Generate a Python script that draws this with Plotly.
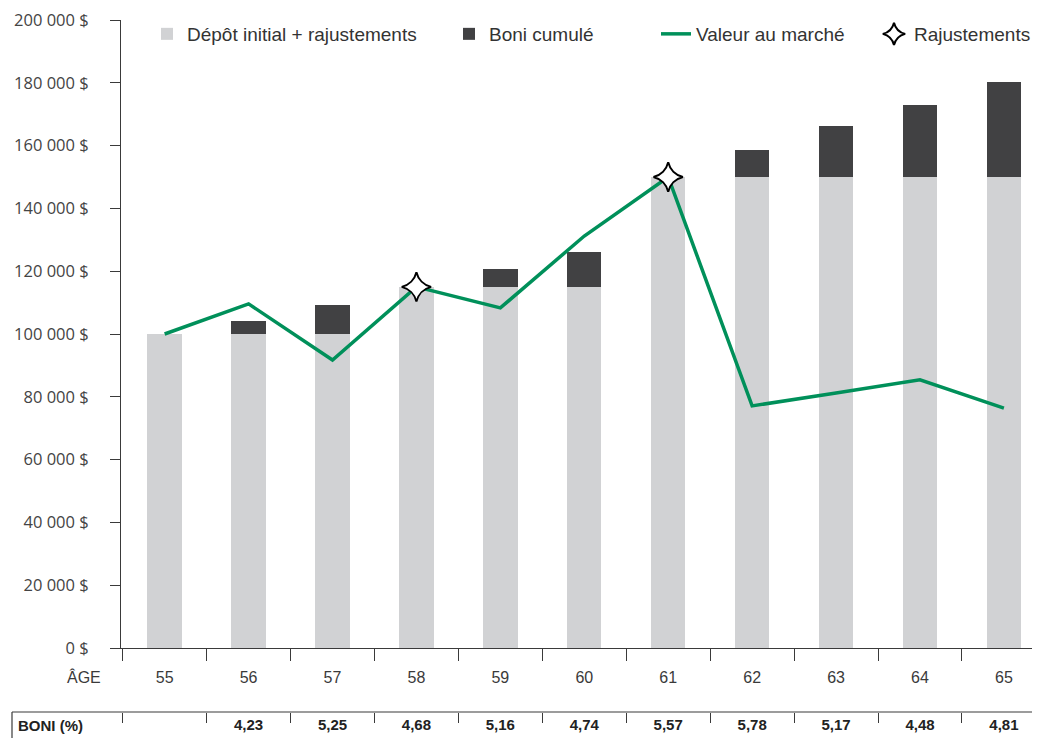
import plotly.graph_objects as go

ages = ["55", "56", "57", "58", "59", "60", "61", "62", "63", "64", "65"]
depot = [100000, 100000, 100000, 115000, 115000, 115000, 150000, 150000, 150000, 150000, 150000]
boni_cumule = [0, 4100, 9200, 0, 5700, 11100, 0, 8600, 16200, 22900, 30300]
valeur_marche = [100000, 109600, 91700, 115000, 108300, 131200, 150000, 77100, 81200, 85400, 76400]
rajust_ages = ["58", "61"]
rajust_values = [115000, 150000]
boni_pct = ["", "4,23", "5,25", "4,68", "5,16", "4,74", "5,57", "5,78", "5,17", "4,48", "4,81"]
y_ticks = [0, 20000, 40000, 60000, 80000, 100000, 120000, 140000, 160000, 180000, 200000]
y_labels = ["0 $", "20 000 $", "40 000 $", "60 000 $", "80 000 $", "100 000 $",
            "120 000 $", "140 000 $", "160 000 $", "180 000 $", "200 000 $"]

# page has an 8px body margin: figure drawn at screen offset (8, 8)
OFF = 8
W, H = 1040 - OFF, 738 - OFF
ML, MT = 121 - OFF, 20 - OFF
PW, PH = W - ML, H - MT


def px_x(sx):
    return (sx - OFF - ML) / PW


def px_y(sy):
    return (H - (sy - OFF)) / PH


LIGHT = "#d1d2d4"
DARK = "#414143"
GREEN = "#00905a"
AXC = "#3a3a3a"
NARROW = "Liberation Sans Narrow, Arial Narrow, Liberation Sans, sans-serif"
X_RANGE = [-0.52, 10.43]

fig = go.Figure()
fig.add_trace(go.Bar(x=ages, y=depot, name="Dépôt initial + rajustements",
                     marker=dict(color=LIGHT, line=dict(width=0)), legend="legend",
                     hoverinfo="skip"))
fig.add_trace(go.Bar(x=ages, y=boni_cumule, name="Boni cumulé",
                     marker=dict(color=DARK, line=dict(width=0)), legend="legend2",
                     hoverinfo="skip"))
fig.add_trace(go.Scatter(x=ages, y=valeur_marche, name="Valeur au marché", mode="lines",
                         line=dict(color=GREEN, width=3.5), legend="legend3",
                         hoverinfo="skip"))
fig.add_trace(go.Scatter(x=rajust_ages, y=rajust_values, name="Rajustements", mode="markers",
                         marker=dict(symbol="star-diamond", size=21, color="white",
                                     line=dict(color="black", width=2)),
                         legend="legend4", hoverinfo="skip"))
# BONI row axis carrier
fig.add_trace(go.Scatter(x=ages, y=[None] * len(ages), xaxis="x2", yaxis="y",
                         showlegend=False, hoverinfo="skip", mode="lines"))

y_bottom = px_y(648)

fig.update_layout(
    width=W, height=H,
    margin=dict(l=ML, r=0, t=MT, b=0, autoexpand=False),
    paper_bgcolor="white", plot_bgcolor="white",
    barmode="stack", bargap=0.59,
    showlegend=True,
    xaxis=dict(type="category", categoryarray=ages, range=X_RANGE,
               tickson="boundaries", ticks="outside", ticklen=12, tickcolor=AXC,
               showline=True, linecolor=AXC, linewidth=1, showgrid=False,
               tickfont=dict(family=NARROW, size=16, color="#3a3a3a"),
               ticklabelstandoff=15, automargin=False, fixedrange=True),
    xaxis2=dict(type="category", categoryarray=ages, range=X_RANGE,
                overlaying="x", anchor="free", position=px_y(712), side="bottom",
                tickson="boundaries", ticks="outside", ticklen=10, tickcolor=AXC,
                tickmode="array", tickvals=ages,
                ticktext=["<b>%s</b>" % t if t else "" for t in boni_pct],
                showline=False, showgrid=False, ticklabeloverflow="allow",
                tickfont=dict(family=NARROW, size=15, color="#222"),
                ticklabelstandoff=2, automargin=False, fixedrange=True),
    yaxis=dict(domain=[y_bottom, 1], range=[0, 200001], tickmode="array",
               tickvals=y_ticks, ticktext=y_labels, ticks="outside", ticklen=10,
               tickcolor=AXC, showline=True, linecolor=AXC, linewidth=1,
               showgrid=False, zeroline=False, ticklabeloverflow="allow",
               tickfont=dict(family="Open Sans, sans-serif", size=16.5, color="#444"),
               ticklabelstandoff=18, automargin=False, fixedrange=True),
)

leg_common = dict(orientation="h", yanchor="middle", y=px_y(34), xanchor="left",
                  bgcolor="rgba(0,0,0,0)",
                  font=dict(family=NARROW, size=19, color="#333"))
fig.update_layout(
    legend=dict(x=px_x(147), **leg_common),
    legend2=dict(x=px_x(449), **leg_common),
    legend3=dict(x=px_x(656), **leg_common),
    legend4=dict(x=px_x(874), **leg_common),
)

fig.add_annotation(text="ÂGE", xref="paper", yref="paper", x=px_x(103), y=px_y(677),
                   xanchor="right", yanchor="middle", showarrow=False,
                   font=dict(family=NARROW, size=16, color="#3a3a3a"))
fig.add_annotation(text="<b>BONI (%)</b>", xref="paper", yref="paper", x=px_x(16), y=px_y(725),
                   xanchor="left", yanchor="middle", showarrow=False,
                   font=dict(family=NARROW, size=15, color="#222"))
fig.add_shape(type="line", xref="paper", yref="paper", x0=px_x(12), x1=1,
              y0=px_y(712), y1=px_y(712), line=dict(color=AXC, width=1.2))
fig.add_shape(type="line", xref="paper", yref="paper", x0=px_x(12), x1=px_x(12),
              y0=px_y(712), y1=0, line=dict(color=AXC, width=1.2))

fig.write_html("out.html")
